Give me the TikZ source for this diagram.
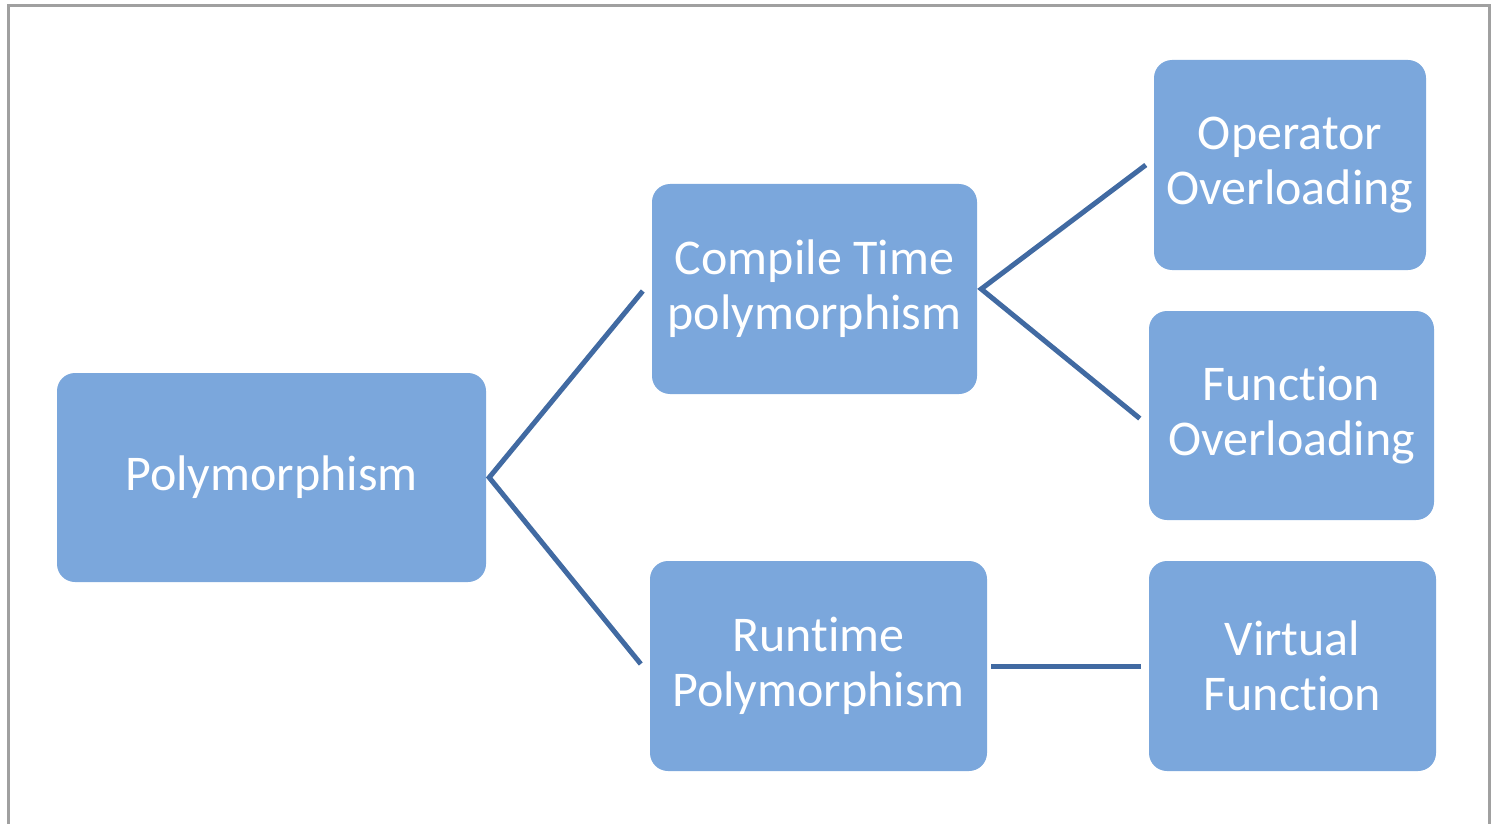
\documentclass[tikz,border=0pt]{standalone}
\usepackage{fontspec}
\setmainfont[Ligatures=NoCommon]{Carlito}
\definecolor{boxfill}{RGB}{123,167,220}
\definecolor{linecol}{RGB}{65,106,162}
\definecolor{framecol}{RGB}{160,160,160}
\begin{document}
\begin{tikzpicture}[x=1pt,y=-1pt,
  box/.style={fill=boxfill, rounded corners=18pt, inner sep=0pt, align=center,
    text=white, font=\fontsize{50}{55}\selectfont},
  conn/.style={draw=linecol, line width=5pt}]
\useasboundingbox (0,0) rectangle (1492,824);
\draw[framecol, line width=3pt] (8,830) -- (8,6) -- (1489,6) -- (1489,830);
\node[box, minimum width=429pt, minimum height=209pt] (poly) at (271.5,477.5) {Polymorphism};
\node[box, minimum width=325pt, minimum height=210pt] (ct) at (814.5,289) {Compile Time\\polymorphism};
\node[box, minimum width=337pt, minimum height=210pt] (rt) at (818.5,666) {Runtime\\Polymorphism};
\node[box, minimum width=272pt, minimum height=210pt] (op) at (1290,165) {Operator\\Overloading};
\node[box, minimum width=285pt, minimum height=209pt] (fo) at (1291.5,415.5) {Function\\Overloading};
\node[box, minimum width=287pt, minimum height=210pt] (vf) at (1292.5,666) {Virtual\\Function};
\coordinate (j1) at ([xshift=3pt]poly.east);
\coordinate (j2) at ([xshift=4pt]ct.east);
\draw[conn] ([xshift=-9pt,yshift=-2pt]ct.west) -- (j1) -- ([xshift=-9pt,yshift=2pt]rt.west);
\draw[conn] ([xshift=-8pt]op.west) -- (j2) -- ([xshift=-9pt,yshift=-3pt]fo.west);
\draw[conn] ([xshift=4pt]rt.east) -- ([xshift=-8pt]vf.west);
\end{tikzpicture}
\end{document}
